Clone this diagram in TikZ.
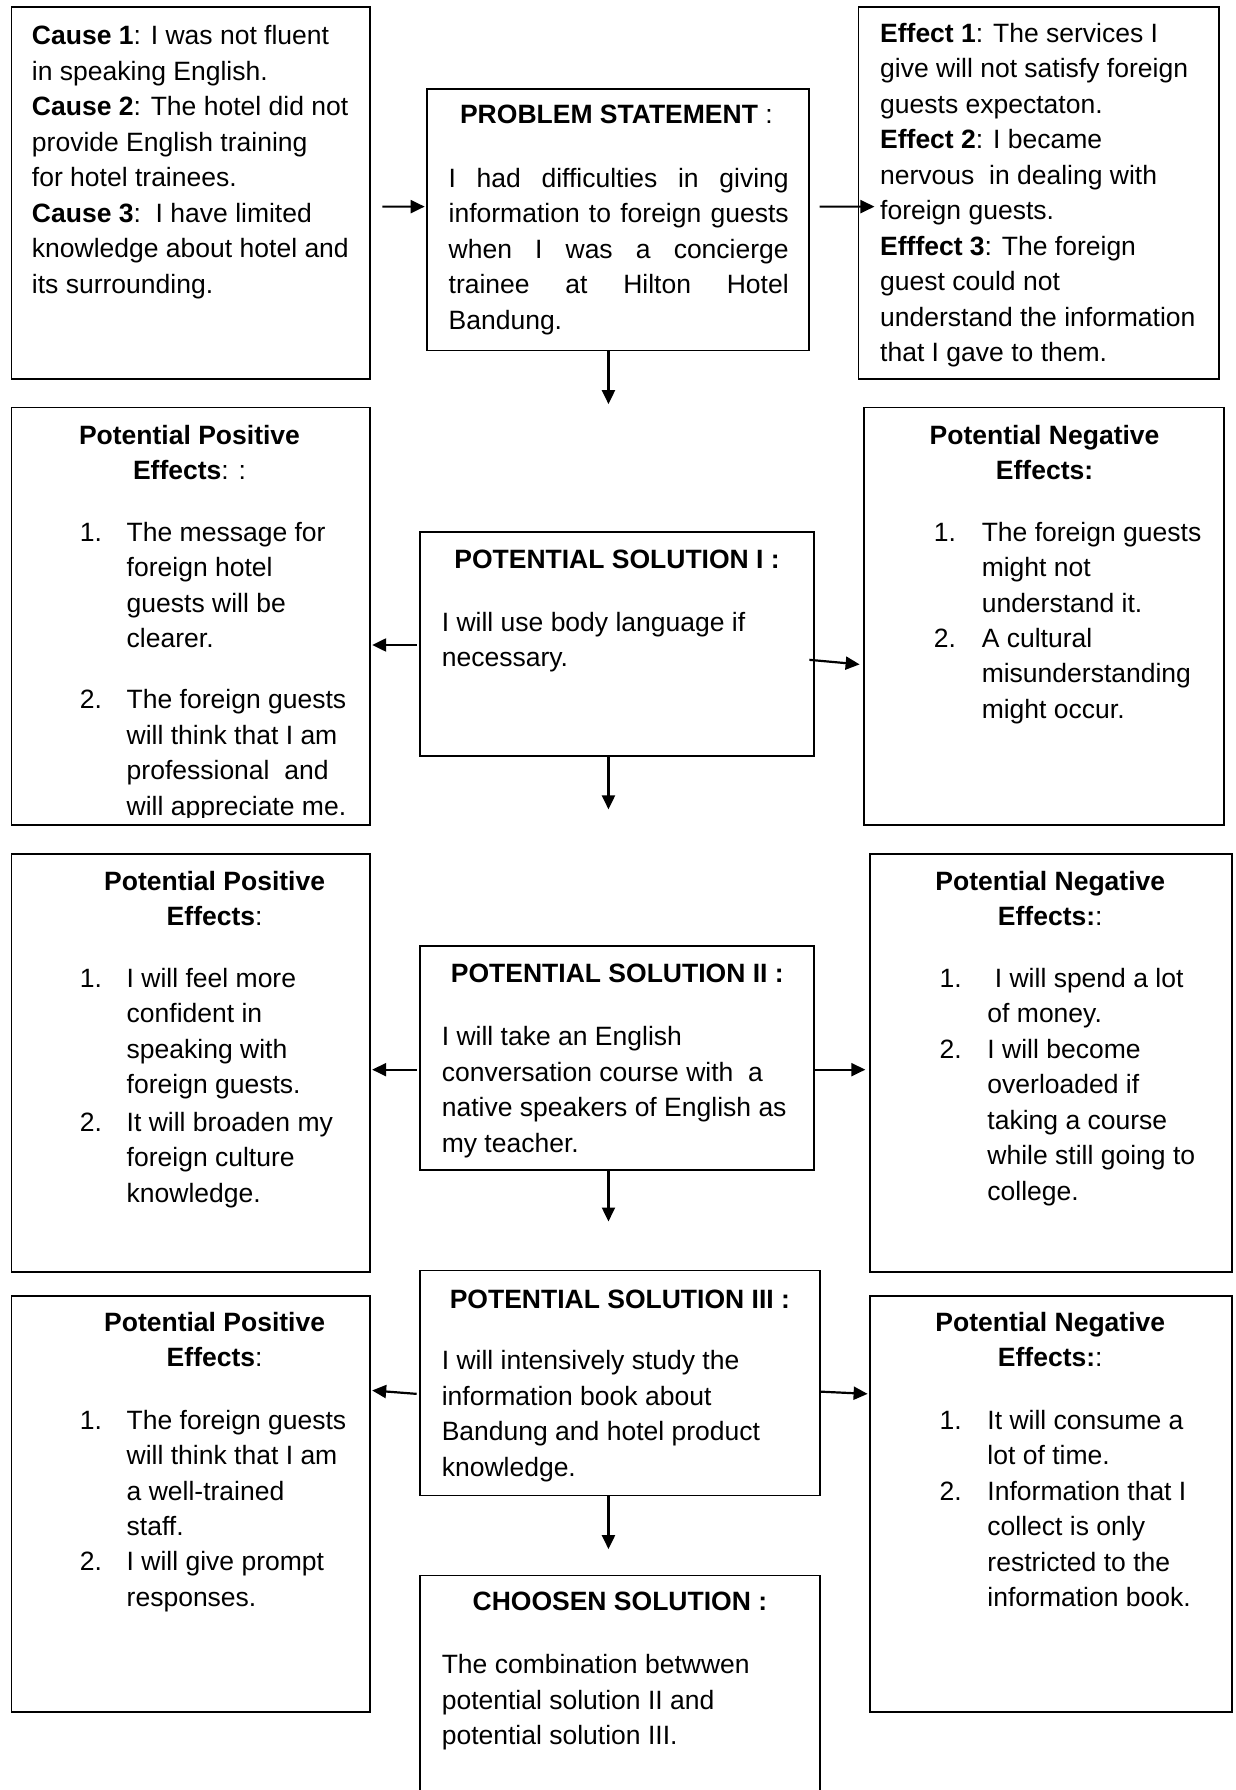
\documentclass[tikz,border=0pt]{standalone}
\usepackage{fontspec}
\setmainfont{Liberation Sans}
\usetikzlibrary{fit,arrows.meta}
\newcommand\myfs{\fontsize{13.25pt}{17.75pt}\selectfont}
\newcommand\tstr{\rule{0pt}{12pt}}
\newcommand\jl[1]{\makebox[170pt][s]{#1}}
\begin{document}
\begin{tikzpicture}[x=0.5707pt,y=-0.5707pt,
  box/.style={draw,line width=0.9pt,inner sep=0pt,outer sep=0pt},
  txt/.style={anchor=north west,inner sep=0pt,outer sep=0pt,align=left,font=\myfs,yshift=12pt},
  ctxt/.style={anchor=north,inner sep=0pt,outer sep=0pt,align=center,font=\myfs,yshift=12pt},
  arr/.style={line width=1.1pt,-{Triangle[length=7pt,width=6.5pt]}}]
\useasboundingbox (0,0) rectangle (1082,1568);
% boxes
\node[box,fit={(10,6) (324,332)}] (cause) {};
\node[box,fit={(374,78) (709,307)}] (prob) {};
\node[box,fit={(752,6) (1068,332)}] (effect) {};
\node[box,fit={(10,357) (324,723)}] (pos1) {};
\node[box,fit={(368,466) (713,662)}] (sol1) {};
\node[box,fit={(757,357) (1072,723)}] (neg1) {};
\node[box,fit={(10,748) (324,1114)}] (pos2) {};
\node[box,fit={(368,829) (713,1025)}] (sol2) {};
\node[box,fit={(762,748) (1079,1114)}] (neg2) {};
\node[box,fit={(10,1135) (324,1500)}] (pos3) {};
\node[box,fit={(368,1113) (718,1310)}] (sol3) {};
\node[box,fit={(762,1135) (1079,1500)}] (neg3) {};
\node[box,fit={(368,1380) (718,1580)}] (chosen) {};
% texts
\node[txt] (tcause) at (28,39) {\tstr\textbf{Cause 1}: I was not fluent\\
in speaking English.\\
\textbf{Cause 2}: The hotel did not\\
provide English training\\
for hotel trainees.\\
\textbf{Cause 3}:\ \ I have limited\\
knowledge about hotel and\\
its surrounding.};
\node[txt] (teffect) at (771,37) {\tstr\textbf{Effect 1}: The services I\\
give will not satisfy foreign\\
guests expectaton.\\
\textbf{Effect 2}: I became\\
nervous\ \ in dealing with\\
foreign guests.\\
\textbf{Efffect 3}: The foreign\\
guest could not\\
understand the information\\
that I gave to them.};
\node[txt] (hprob) at (403,108) {\tstr\textbf{PROBLEM STATEMENT} :};
\node[txt] (bprob) at (393,164) {\tstr\jl{I had difficulties in giving}\\
\jl{information to foreign guests}\\
\jl{when I was a concierge}\\
\jl{trainee at Hilton Hotel}\\
Bandung.};
% row 1
\node[ctxt] (hpos1) at (166,389) {\tstr\textbf{Potential Positive}\\\textbf{Effects}: :};
\node[txt] (npos1a) at (70,474) {\tstr 1.};
\node[txt] (ipos1a) at (111,474) {\tstr The message for\\foreign hotel\\guests will be\\clearer.};
\node[txt] (npos1b) at (70,621) {\tstr 2.};
\begin{scope}
\clip (10,357) rectangle (324,716);
\node[txt] (ipos1b) at (111,621) {\tstr The foreign guests\\will think that I am\\professional\ \ and\\will appreciate me.};
\end{scope}
\node[txt] (hsol1) at (398,498) {\tstr\textbf{POTENTIAL SOLUTION I :}};
\node[txt] (bsol1) at (387,553) {\tstr I will use body language if\\necessary.};
\node[ctxt] (hneg1) at (915,389) {\tstr\textbf{Potential Negative}\\\textbf{Effects:}};
\node[txt] (nneg1a) at (818,474) {\tstr 1.};
\node[txt] (ineg1a) at (860,474) {\tstr The foreign guests\\might not\\understand it.};
\node[txt] (nneg1b) at (818,567) {\tstr 2.};
\node[txt] (ineg1b) at (860,567) {\tstr A cultural\\misunderstanding\\might occur.};
% row 2
\node[ctxt] (hpos2) at (188,780) {\tstr\textbf{Potential Positive}\\\textbf{Effects}:};
\node[txt] (npos2a) at (70,865) {\tstr 1.};
\node[txt] (ipos2a) at (111,865) {\tstr I will feel more\\confident in\\speaking with\\foreign guests.};
\node[txt] (npos2b) at (70,991) {\tstr 2.};
\node[txt] (ipos2b) at (111,991) {\tstr It will broaden my\\foreign culture\\knowledge.};
\node[txt] (hsol2) at (395,861) {\tstr\textbf{POTENTIAL SOLUTION II :}};
\node[txt] (bsol2) at (387,916) {\tstr I will take an English\\conversation course with\ \ a\\native speakers of English as\\my teacher.};
\node[ctxt] (hneg2) at (920,780) {\tstr\textbf{Potential Negative}\\\textbf{Effects:}:};
\node[txt] (nneg2a) at (823,865) {\tstr 1.};
\node[txt] (ineg2a) at (865,865) {\tstr\hspace*{3.7pt}I will spend a lot\\of money.};
\node[txt] (nneg2b) at (823,927) {\tstr 2.};
\node[txt] (ineg2b) at (865,927) {\tstr I will become\\overloaded if\\taking a course\\while still going to\\college.};
% row 3
\node[ctxt] (hpos3) at (188,1166) {\tstr\textbf{Potential Positive}\\\textbf{Effects}:};
\node[txt] (npos3a) at (70,1252) {\tstr 1.};
\node[txt] (ipos3a) at (111,1252) {\tstr The foreign guests\\will think that I am\\a well-trained\\staff.};
\node[txt] (npos3b) at (70,1376) {\tstr 2.};
\node[txt] (ipos3b) at (111,1376) {\tstr I will give prompt\\responses.};
\node[txt] (hsol3) at (394,1146) {\tstr\textbf{POTENTIAL SOLUTION III :}};
\node[txt] (bsol3) at (387,1200) {\tstr I will intensively study the\\information book about\\Bandung and hotel product\\knowledge.};
\node[ctxt] (hneg3) at (920,1166) {\tstr\textbf{Potential Negative}\\\textbf{Effects:}:};
\node[txt] (nneg3a) at (823,1252) {\tstr 1.};
\node[txt] (ineg3a) at (865,1252) {\tstr It will consume a\\lot of time.};
\node[txt] (nneg3b) at (823,1314) {\tstr 2.};
\node[txt] (ineg3b) at (865,1314) {\tstr Information that I\\collect is only\\restricted to the\\information book.};
% chosen
\node[txt] (hchosen) at (414,1411) {\tstr\textbf{CHOOSEN SOLUTION :}};
\node[txt] (bchosen) at (387,1466) {\tstr The combination betwwen\\potential solution II and\\potential solution III.};
% free arrow ends
\coordinate (d1) at (533,354);
\coordinate (d2) at (533,709);
\coordinate (d3) at (533,1070);
% arrows
\draw[arr] ([shift={(11,12)}]cause.east) -- ([shift={(-2,-11.5)}]prob.west);
\draw[arr] ([shift={(9,-11.5)}]prob.east) -- ([shift={(14,12)}]effect.west);
\draw[arr] ([shift={(-8.5,0)}]prob.south) -- (d1);
\draw[arr] ([shift={(-3,1)}]sol1.west) -- ([shift={(2,25)}]pos1.east);
\draw[arr] ([shift={(-4,14)}]sol1.east) -- ([shift={(-4,42)}]neg1.west);
\draw[arr] ([shift={(-7.5,0)}]sol1.south) -- (d2);
\draw[arr] ([shift={(-3,10)}]sol2.west) -- ([shift={(2,6)}]pos2.east);
\draw[arr] ([shift={(0,10)}]sol2.east) -- ([shift={(-4,6)}]neg2.west);
\draw[arr] ([shift={(-7.5,0)}]sol2.south) -- (d3);
\draw[arr] ([shift={(-3,9.5)}]sol3.west) -- ([shift={(2,-99.5)}]pos3.east);
\draw[arr] ([shift={(0,7.5)}]sol3.east) -- ([shift={(-2,-96.5)}]neg3.west);
\draw[arr] ([shift={(-10,0)}]sol3.south) -- ([shift={(-10,-23)}]chosen.north);
\end{tikzpicture}
\end{document}
